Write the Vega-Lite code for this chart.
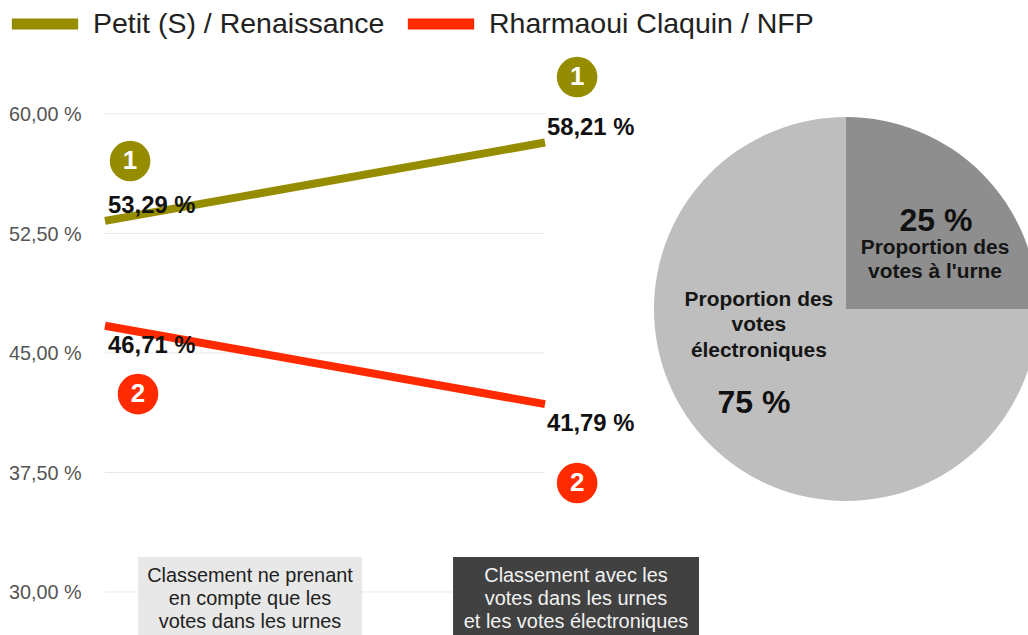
{
"$schema":"https://vega.github.io/schema/vega-lite/v6.json",
"width":923,"height":635,
"autosize":{"type":"none"},
"padding":{"left":105,"top":0,"right":0,"bottom":0},
"background":"white",
"config":{"view":{"stroke":null},"font":"Liberation Sans"},
"layer":[
{"data":{"values":[{"v":60},{"v":52.5},{"v":45},{"v":37.5},{"v":30}]},
 "mark":{"type":"rule","color":"#e8e8e8","strokeWidth":1},
 "encoding":{
  "x":{"datum":1,"type":"quantitative","scale":{"domain":[1,3.0977],"nice":false,"zero":false},"axis":null},
  "x2":{"datum":2},
  "y":{"field":"v","type":"quantitative","scale":{"domain":[27.3,67.155],"nice":false,"zero":false},
   "axis":{"values":[30,37.5,45,52.5,60],"title":null,"grid":false,"domain":false,"ticks":false,"labelPadding":24,"labelOffset":1,"labelFontSize":19.8,"labelColor":"#555555","labelFont":"Liberation Sans","labelExpr":"replace(format(datum.value,'.2f'),'.',',')+' %'"}}}},
{"data":{"values":[{"part":"urne","share":25,"k":1,"cx":2.684,"cy":47.76},{"part":"electronique","share":75,"k":2,"cx":2.684,"cy":47.76}]},
 "mark":{"type":"arc","radius":192,"stroke":null},
 "encoding":{
  "x":{"field":"cx","type":"quantitative"},
  "y":{"field":"cy","type":"quantitative"},
  "theta":{"field":"share","type":"quantitative","stack":true,"scale":{"domain":[0,100],"range":[0,6.2832]}},
  "order":{"field":"k"},
  "fill":{"field":"part","type":"nominal","legend":null,"scale":{"domain":["urne","electronique"],"range":["#8e8e8e","#bebebe"]}}}},
{"data":{"values":[{"x0":1.075,"x1":1.584,"y0":32.2,"y1":27.3}]},
 "mark":{"type":"rect","color":"#e8e8e8"},
 "encoding":{
  "x":{"field":"x0","type":"quantitative"},"x2":{"field":"x1"},
  "y":{"field":"y0","type":"quantitative"},"y2":{"field":"y1"}}},
{"data":{"values":[{"x0":1.791,"x1":2.35,"y0":32.2,"y1":27.3}]},
 "mark":{"type":"rect","color":"#414141"},
 "encoding":{
  "x":{"field":"x0","type":"quantitative"},"x2":{"field":"x1"},
  "y":{"field":"y0","type":"quantitative"},"y2":{"field":"y1"}}},
{"data":{"values":[
 {"t":1,"score":53.29,"candidat":"Petit (S) / Renaissance"},{"t":2,"score":58.21,"candidat":"Petit (S) / Renaissance"},
 {"t":1,"score":46.71,"candidat":"Rharmaoui Claquin / NFP"},{"t":2,"score":41.79,"candidat":"Rharmaoui Claquin / NFP"}]},
 "mark":{"type":"line","strokeWidth":8},
 "encoding":{
  "x":{"field":"t","type":"quantitative"},
  "y":{"field":"score","type":"quantitative"},
  "color":{"field":"candidat","type":"nominal","scale":{"domain":["Petit (S) / Renaissance","Rharmaoui Claquin / NFP"],"range":["#968c00","#ff2a00"]},
   "legend":{"orient":"none","legendX":-99,"legendY":-15,"direction":"horizontal","columns":2,"title":null,"symbolType":"stroke","symbolStrokeWidth":11,"symbolSize":4400,"labelFontSize":28.5,"labelLimit":500,"labelColor":"#222222","labelFont":"Liberation Sans","columnPadding":0,"labelOffset":9,"symbolOpacity":1}}}},
{"data":{"values":[
 {"x":1.057,"y":57.05,"candidat":"Petit (S) / Renaissance"},
 {"x":2.073,"y":62.32,"candidat":"Petit (S) / Renaissance"}]},
 "mark":{"type":"point","filled":true,"opacity":1,"size":1650,"color":"#968c00"},
 "encoding":{"x":{"field":"x","type":"quantitative"},"y":{"field":"y","type":"quantitative"}}},
{"data":{"values":[
 {"x":1.075,"y":42.42,"candidat":"Rharmaoui Claquin / NFP"},
 {"x":2.073,"y":36.84,"candidat":"Rharmaoui Claquin / NFP"}]},
 "mark":{"type":"point","filled":true,"opacity":1,"size":1650,"color":"#ff2a00"},
 "encoding":{"x":{"field":"x","type":"quantitative"},"y":{"field":"y","type":"quantitative"}}},
{"data":{"values":[
 {"x":1.057,"y":57.05,"rang":"1"},
 {"x":2.073,"y":62.32,"rang":"1"},
 {"x":1.075,"y":42.42,"rang":"2"},
 {"x":2.073,"y":36.84,"rang":"2"}]},
 "mark":{"type":"text","color":"white","fontSize":26,"fontWeight":"bold","baseline":"middle","align":"center"},
 "encoding":{"x":{"field":"x","type":"quantitative"},"y":{"field":"y","type":"quantitative"},"text":{"field":"rang"}}},
{"data":{"values":[
 {"x":1.007,"y":54.23,"label":"53,29 %"},{"x":2.0045,"y":59.12,"label":"58,21 %"},
 {"x":1.007,"y":45.44,"label":"46,71 %"},{"x":2.0045,"y":40.54,"label":"41,79 %"}]},
 "mark":{"type":"text","align":"left","baseline":"middle","fontSize":23.8,"fontWeight":"bold","color":"#111111"},
 "encoding":{"x":{"field":"x","type":"quantitative"},"y":{"field":"y","type":"quantitative"},"text":{"field":"label"}}},
{"data":{"values":[
 {"x":2.8886,"y":53.28,"label":"25 %"},{"x":2.475,"y":41.85,"label":"75 %"}]},
 "mark":{"type":"text","align":"center","baseline":"middle","fontSize":32,"fontWeight":"bold","color":"#111111"},
 "encoding":{"x":{"field":"x","type":"quantitative"},"y":{"field":"y","type":"quantitative"},"text":{"field":"label"}}},
{"data":{"values":[
 {"x":2.8864,"y":51.59,"label":"Proportion des"},{"x":2.8864,"y":50.08,"label":"votes à l'urne"},
 {"x":2.486,"y":48.33,"label":"Proportion des"},{"x":2.486,"y":46.76,"label":"votes"},{"x":2.486,"y":45.13,"label":"électroniques"}]},
 "mark":{"type":"text","align":"center","baseline":"middle","fontSize":20.9,"fontWeight":"bold","color":"#151515"},
 "encoding":{"x":{"field":"x","type":"quantitative"},"y":{"field":"y","type":"quantitative"},"text":{"field":"label"}}},
{"data":{"values":[
 {"x":1.3295,"y":31,"label":"Classement ne prenant"},{"x":1.3295,"y":29.55,"label":"en compte que les"},{"x":1.3295,"y":28.1,"label":"votes dans les urnes"}]},
 "mark":{"type":"text","align":"center","baseline":"middle","fontSize":19.9,"color":"#222222"},
 "encoding":{"x":{"field":"x","type":"quantitative"},"y":{"field":"y","type":"quantitative"},"text":{"field":"label"}}},
{"data":{"values":[
 {"x":2.0705,"y":31,"label":"Classement avec les"},{"x":2.0705,"y":29.55,"label":"votes dans les urnes"},{"x":2.0705,"y":28.1,"label":"et les votes électroniques"}]},
 "mark":{"type":"text","align":"center","baseline":"middle","fontSize":19.9,"color":"#f2f2f2"},
 "encoding":{"x":{"field":"x","type":"quantitative"},"y":{"field":"y","type":"quantitative"},"text":{"field":"label"}}}
]
}
